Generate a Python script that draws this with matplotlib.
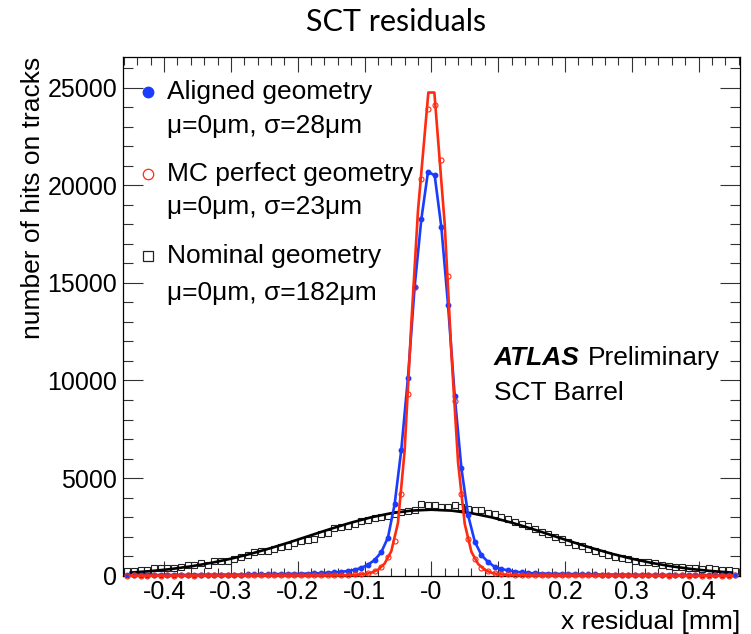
import matplotlib
matplotlib.use('Agg')
import matplotlib.pyplot as plt
import numpy as np

plt.rcParams['font.family'] = ['Liberation Sans', 'DejaVu Sans']

# ---------------- data ----------------
bin_lo, bin_w, n_bins = -0.46, 0.01, 92

nominal = [256, 256, 290, 290, 375, 375, 375, 375, 461, 546, 563, 631, 563, 734, 768, 768,
           853, 973, 1075, 1195, 1246, 1280, 1365, 1450, 1536, 1672, 1758, 1843, 1877, 2133, 2200,
           2423, 2475, 2560, 2645, 2816, 2867, 2953, 2987, 3038, 3157, 3243, 3294, 3362, 3669, 3618,
           3635, 3533, 3533, 3635, 3499, 3413, 3362, 3362, 3191, 3157, 3000, 2880, 2760, 2650, 2540,
           2400, 2260, 2150, 1997, 1877, 1707, 1587, 1502, 1365, 1246, 1143, 1075, 973, 905, 853,
           768, 683, 683, 631, 546, 512, 461, 461, 375, 375, 341, 375, 341, 290, 290, 256]

aligned = [30, 25, 35, 30, 30, 40, 35, 40, 45, 40, 50, 45, 50, 55, 50, 60,
           60, 55, 65, 70, 65, 75, 80, 85, 90, 95,
           100, 110, 120, 130, 150, 170, 200, 240,
           300, 400, 560, 800, 1200, 1950, 3650, 6450, 10150, 14800, 18260,
           20700, 20500,
           17840, 13860, 9200, 5500, 3100, 1750, 1050, 700, 450, 340,
           270, 210, 170, 140, 120,
           110, 100, 95, 90, 85,
           80, 75, 70, 65, 60, 60, 55, 55, 50,
           50, 45, 45, 40, 40, 40, 35, 35, 35, 30, 30, 30, 25, 25, 30, 25]

mc_perfect = [10, 15, 10, 10, 15, 10, 15, 10, 15, 15, 10, 15, 15, 20, 15, 15, 20, 15, 20, 20,
              20, 25, 20, 25, 25, 30, 25, 30, 30, 35, 35, 40, 45, 55, 65, 80,
              120, 230, 430, 940, 1790, 4180, 9300, 14810, 20340, 23900,
              24100, 21300, 15360, 8960, 4180, 1880, 850, 420, 230, 130,
              80, 65, 55, 45, 40, 35, 35, 30, 30, 25, 30, 25, 25, 20, 20, 25, 20, 20,
              15, 20, 15, 15, 20, 15, 15, 10, 15, 15, 10, 15, 10, 10, 15, 10, 10, 15]

# fitted curves
nominal_fit_x = [-0.45, -0.42, -0.39, -0.36, -0.33, -0.30, -0.27, -0.24, -0.21, -0.18, -0.15,
                 -0.12, -0.09, -0.06, -0.03, 0.0, 0.03, 0.06, 0.09, 0.12, 0.15, 0.18, 0.21,
                 0.24, 0.27, 0.30, 0.33, 0.36, 0.39, 0.42, 0.45]
nominal_fit_y = [159, 236, 340, 478, 653, 869, 1125, 1417, 1737, 2073, 2407,
                 2720, 2991, 3201, 3334, 3380, 3334, 3201, 2991, 2720, 2407, 2073, 1737,
                 1417, 1125, 869, 653, 478, 340, 236, 159]

mc_fit_x = [-0.45, -0.15, -0.12, -0.10, -0.09, -0.08, -0.07, -0.06, -0.05, -0.04, -0.03, -0.02,
            -0.0045, 0.0045, 0.02, 0.03, 0.04, 0.05, 0.06, 0.07, 0.08, 0.09, 0.10, 0.12, 0.15, 0.45]
mc_fit_y = [0, 10, 30, 80, 150, 300, 620, 1250, 2700, 6400, 12900, 18700,
            24750, 24750, 18000, 11400, 5800, 2650, 1220, 600, 300, 150, 80, 30, 10, 0]

xtick_vals = [-0.4, -0.3, -0.2, -0.1, 0.0, 0.1, 0.2, 0.3, 0.4]
xtick_labels = ['-0.4', '-0.3', '-0.2', '-0.1', '-0', '0.1', '0.2', '0.3', '0.4']
ytick_vals = [0, 5000, 10000, 15000, 20000, 25000]
ytick_labels = ['0', '5000', '10000', '15000', '20000', '25000']

legend_entries = ['Aligned geometry', 'MC perfect geometry', 'Nominal geometry']
legend_params = ['\u03bc=0\u03bcm, \u03c3=28\u03bcm', '\u03bc=0\u03bcm, \u03c3=23\u03bcm',
                 '\u03bc=0\u03bcm, \u03c3=182\u03bcm']

# ---------------- figure ----------------
W, H = 751, 634
fig = plt.figure(figsize=(W / 100, H / 100), dpi=100)
L, R, T, B = 122.7, 740.0, 57.0, 575.7
ax = fig.add_axes([L / W, 1 - B / H, (R - L) / W, (B - T) / H])

blue = '#1a3cff'
red = '#ff2a10'

xc = bin_lo + bin_w * (np.arange(n_bins) + 0.5)

ax.plot(xc, nominal, ls='none', marker='s', ms=4.6, mfc='none', mec='#222222', mew=0.8,
        clip_on=False, zorder=2)
ax.plot(nominal_fit_x, nominal_fit_y, color='black', lw=1.9, clip_on=False, zorder=3)
ax.plot(xc, aligned, color=blue, lw=1.9, marker='o', ms=3.2, mfc=blue, mec=blue,
        clip_on=False, zorder=4)
ax.plot(xc, mc_perfect, ls='none', marker='o', ms=3.6, mfc='none', mec=red, mew=0.8,
        clip_on=False, zorder=5)
ax.plot(mc_fit_x, mc_fit_y, color=red, lw=1.9, clip_on=False, zorder=5)

ax.set_xlim(-0.462, 0.462)
ax.set_ylim(0, 26570)
ax.set_xticks(xtick_vals)
ax.set_xticklabels(xtick_labels)
ax.set_xticks(np.arange(-0.46, 0.4601, 0.02), minor=True)
ax.set_yticks(ytick_vals)
ax.set_yticklabels(ytick_labels)
ax.set_yticks(np.arange(0, 26001, 1000), minor=True)

ax.tick_params(axis='both', which='both', direction='in', top=True, right=True,
               width=0.8, color='#333333', labelsize=18)
ax.tick_params(axis='x', which='major', length=11, pad=3)
ax.tick_params(axis='x', which='minor', length=5.5)
ax.tick_params(axis='y', which='major', length=14.4, pad=4)
ax.tick_params(axis='y', which='minor', length=7.2)
for s in ax.spines.values():
    s.set_linewidth(0.9)


def fx(px):
    return px / W


def fy(py):
    return 1 - py / H


# title
fig.text(fx(396), fy(22), 'SCT residuals', ha='center', va='center', fontsize=22,
         family=['Lato', 'DejaVu Sans'])

# axis labels
fig.text(fx(740), fy(628.5), 'x residual [mm]', ha='right', va='baseline', fontsize=19)
fig.text(fx(33), fy(57), 'number of hits on tracks', ha='center', va='top', rotation=90,
         fontsize=19)

# legend
lx_marker, lx_text = 148.3, 167
row_base = [(99, 132.7), (180.7, 214), (262.7, 300)]
marker_y = [92.3, 174, 256]
for i in range(3):
    fig.text(fx(lx_text), fy(row_base[i][0]), legend_entries[i], ha='left', va='baseline',
             fontsize=19)
    fig.text(fx(lx_text), fy(row_base[i][1]), legend_params[i], ha='left', va='baseline',
             fontsize=19)
fig.lines.append(matplotlib.lines.Line2D([fx(lx_marker)], [fy(marker_y[0])], transform=fig.transFigure,
                                         marker='o', ms=7.5, mfc=blue, mec=blue, ls='none'))
fig.lines.append(matplotlib.lines.Line2D([fx(lx_marker)], [fy(marker_y[1])], transform=fig.transFigure,
                                         marker='o', ms=7.5, mfc='none', mec=red, mew=0.9, ls='none'))
fig.lines.append(matplotlib.lines.Line2D([fx(lx_marker)], [fy(marker_y[2])], transform=fig.transFigure,
                                         marker='s', ms=7.2, mfc='none', mec='#222222', mew=0.9, ls='none'))

# ATLAS label
fig.text(fx(493.3), fy(365), 'ATLAS', ha='left', va='baseline', fontsize=19,
         fontweight='bold', fontstyle='italic')
fig.text(fx(588.3), fy(365), 'Preliminary', ha='left', va='baseline', fontsize=19)
fig.text(fx(494), fy(400), 'SCT Barrel', ha='left', va='baseline', fontsize=19)

fig.savefig('out.png', dpi=100)
